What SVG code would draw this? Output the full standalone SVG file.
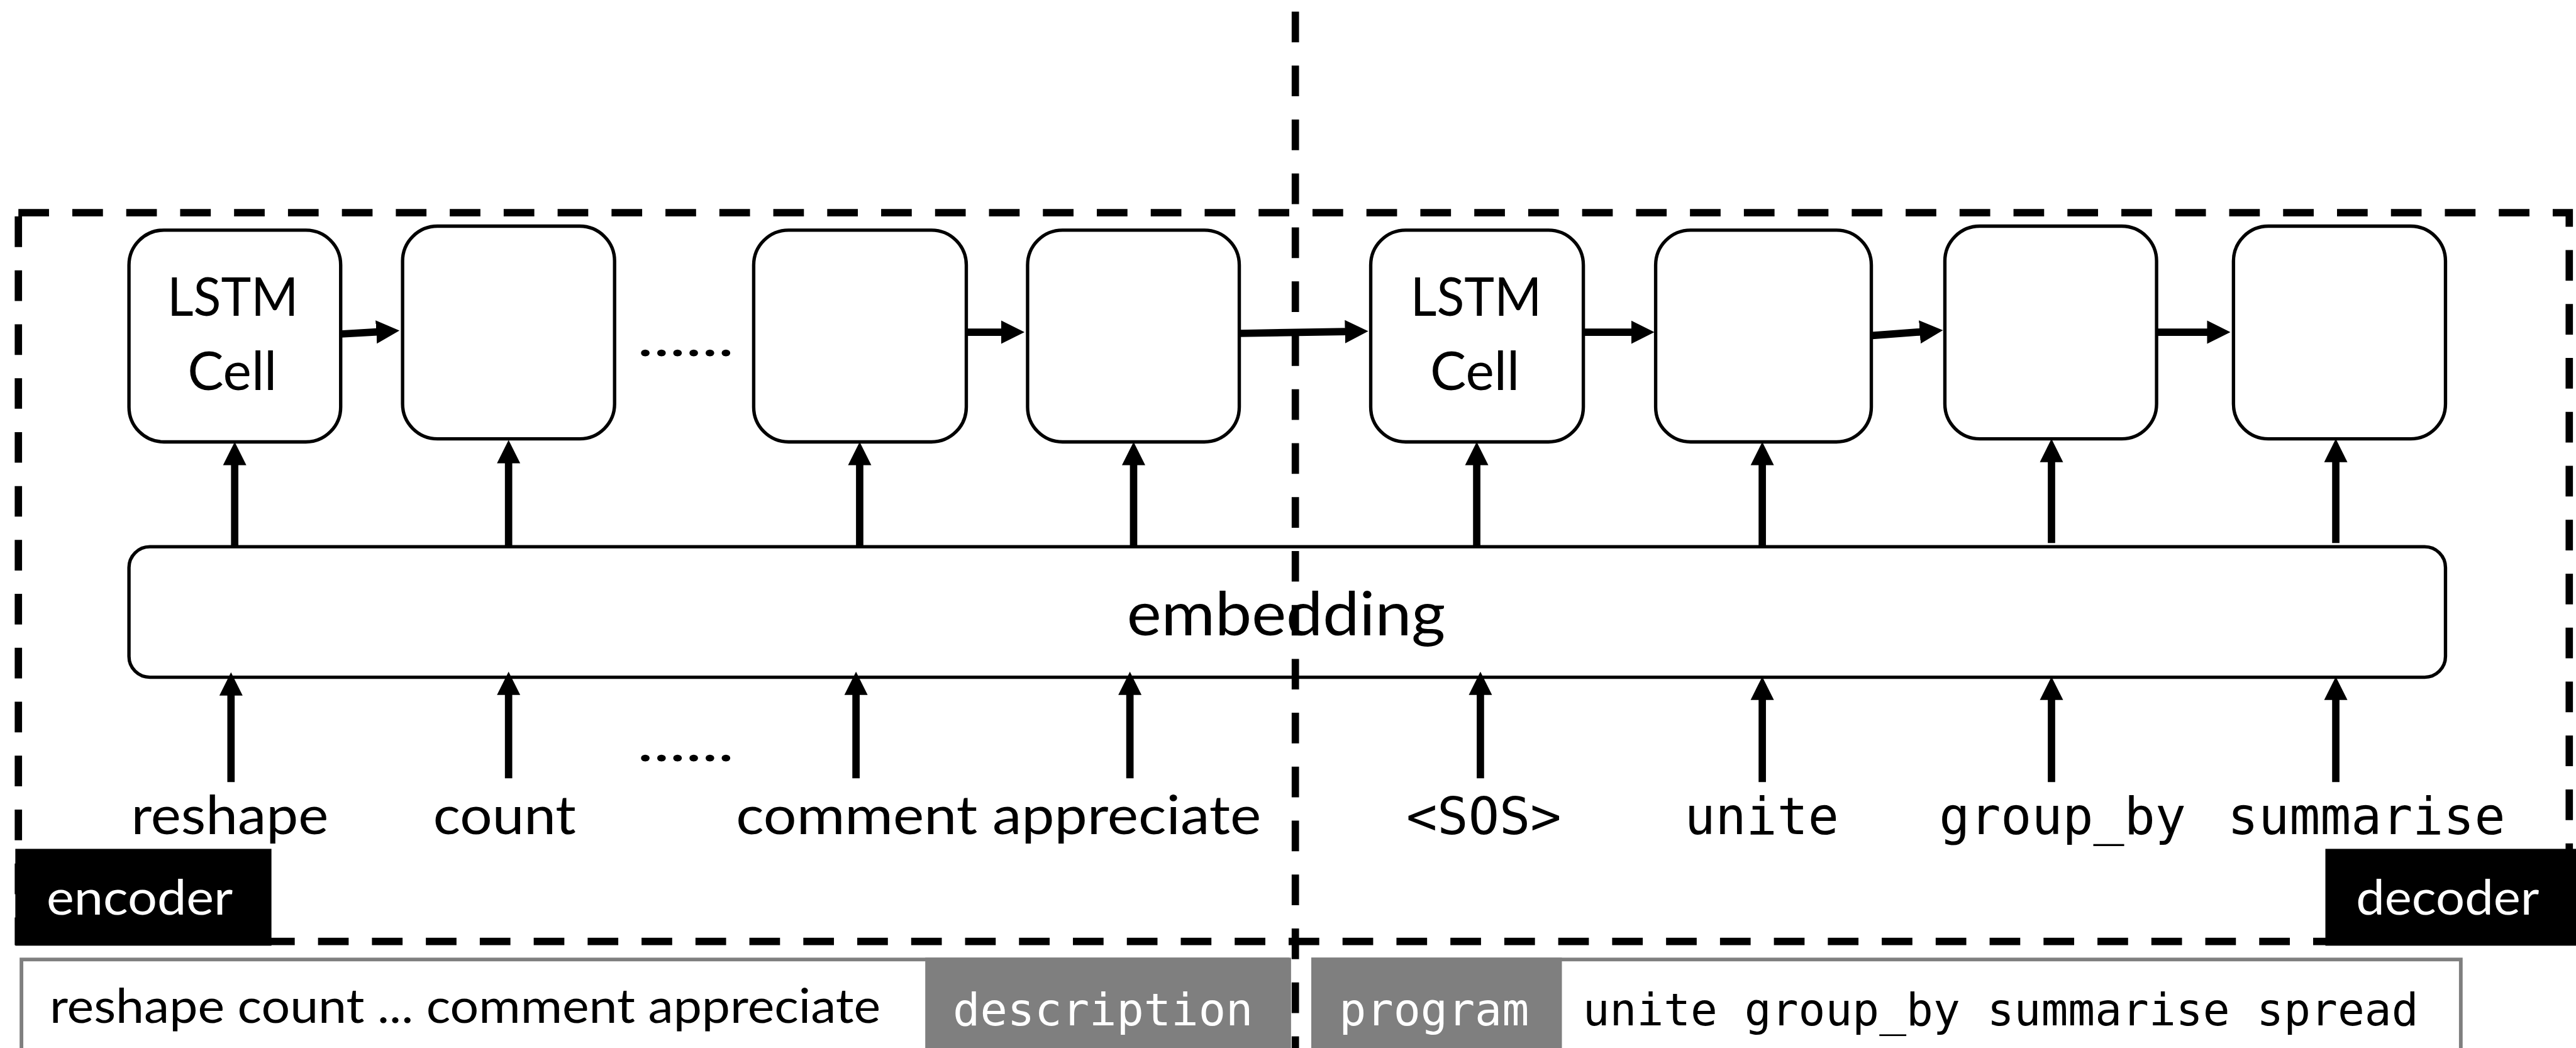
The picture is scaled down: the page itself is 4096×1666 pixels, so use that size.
<svg xmlns="http://www.w3.org/2000/svg" width="4096" height="1666" viewBox="0 0 4096 1666">
<style>
.cell{fill:#fff;stroke:#000;stroke-width:5.5}
.sans{font-family:Lato,"Open Sans","Liberation Sans",sans-serif;fill:#000}
.mono{font-family:"DejaVu Sans Mono","Liberation Mono",monospace;fill:#000}
.white{fill:#fff}
.dash{fill:none;stroke:#000;stroke-width:12;stroke-dasharray:50 38}
.arr{stroke:#000;stroke-width:12;fill:none;marker-end:url(#ah)}
.gray{fill:#7f7f7f}
.panel{fill:#fff;stroke:#7f7f7f;stroke-width:6}
</style>
<defs>
<marker id="ah" markerUnits="userSpaceOnUse" markerWidth="40" markerHeight="40" viewBox="0 0 40 40" refX="2" refY="20" orient="auto"><path d="M0,1 L38,20 L0,39 Z" fill="#000"/></marker>
</defs>
<rect width="4096" height="1666" fill="#fff"/>
<g transform="scale(0.97431)">
  <g id="frame">
    <rect class="dash" x="30" y="347" width="4163" height="1189"/>
  </g>
  <g id="encoder-label">
    <rect x="25" y="1385" width="418" height="158" fill="#000"/>
    <text class="sans white" x="76" y="1492" font-size="80" textLength="304" lengthAdjust="spacingAndGlyphs">encoder</text>
  </g>
  <g id="decoder-label">
    <rect x="3795" y="1385" width="409" height="158" fill="#000"/>
    <text class="sans white" x="3845" y="1492" font-size="80" textLength="299" lengthAdjust="spacingAndGlyphs">decoder</text>
  </g>
  <g id="cell1">
    <rect class="cell" x="210.5" y="375.5" width="345.5" height="345.5" rx="57"/>
    <text class="sans" x="380" y="515" font-size="88" text-anchor="middle" textLength="214" lengthAdjust="spacingAndGlyphs">LSTM</text>
    <text class="sans" x="379" y="636" font-size="88" text-anchor="middle" textLength="146" lengthAdjust="spacingAndGlyphs">Cell</text>
  </g>
  <g id="cell2"><rect class="cell" x="657" y="369" width="346" height="347" rx="57"/></g>
  <g id="cell3"><rect class="cell" x="1230" y="375.5" width="347" height="345.5" rx="57"/></g>
  <g id="cell4"><rect class="cell" x="1677" y="375.5" width="345.5" height="345.5" rx="57"/></g>
  <g id="cell5">
    <rect class="cell" x="2237" y="375.5" width="347" height="345.5" rx="57"/>
    <text class="sans" x="2409" y="515" font-size="88" text-anchor="middle" textLength="214" lengthAdjust="spacingAndGlyphs">LSTM</text>
    <text class="sans" x="2407" y="636" font-size="88" text-anchor="middle" textLength="146" lengthAdjust="spacingAndGlyphs">Cell</text>
  </g>
  <g id="cell6"><rect class="cell" x="2702" y="375.5" width="352" height="345.5" rx="57"/></g>
  <g id="cell7"><rect class="cell" x="3174" y="369" width="345.5" height="347" rx="57"/></g>
  <g id="cell8"><rect class="cell" x="3645" y="369" width="346" height="347" rx="57"/></g>
  <g id="dots-top"><text class="sans" x="1040" y="581" font-size="88" textLength="158" lengthAdjust="spacingAndGlyphs">......</text></g>
  <g id="embedding">
    <rect class="cell" x="210.5" y="892" width="3780.5" height="213" rx="34"/>
    <text class="sans" x="1839" y="1037" font-size="100" textLength="520" lengthAdjust="spacingAndGlyphs">embedding</text>
  </g>
  <g id="connectors">
    <path class="arr" d="M556,545 L616,541.5"/>
    <path class="arr" d="M1577,542 L1636,542"/>
    <path class="arr" d="M2022.5,544 L2197,541"/>
    <path class="arr" d="M2584,542 L2664,542"/>
    <path class="arr" d="M3055.5,547.5 L3135,541.5"/>
    <path class="arr" d="M3519.5,542 L3604,542"/>
    <path class="arr" d="M383,892 L383,757"/>
    <path class="arr" d="M830,892 L830,754"/>
    <path class="arr" d="M1403,892 L1403,757"/>
    <path class="arr" d="M1850,892 L1850,757"/>
    <path class="arr" d="M2410,892 L2410,757"/>
    <path class="arr" d="M2876,892 L2876,757"/>
    <path class="arr" d="M3348,886 L3348,752"/>
    <path class="arr" d="M3812,886 L3812,752"/>
    <path class="arr" d="M377,1276 L377,1133"/>
    <path class="arr" d="M830,1270 L830,1132"/>
    <path class="arr" d="M1397,1270 L1397,1132"/>
    <path class="arr" d="M1844,1270 L1844,1132"/>
    <path class="arr" d="M2416,1270 L2416,1132"/>
    <path class="arr" d="M2876,1276 L2876,1140"/>
    <path class="arr" d="M3348,1276 L3348,1140"/>
    <path class="arr" d="M3812,1276 L3812,1140"/>
  </g>
  <g id="inputs">
    <text class="sans" x="214" y="1361" font-size="88" textLength="322" lengthAdjust="spacingAndGlyphs">reshape</text>
    <text class="sans" x="707" y="1361" font-size="88" textLength="233" lengthAdjust="spacingAndGlyphs">count</text>
    <text class="sans" x="1040" y="1242" font-size="88" textLength="158" lengthAdjust="spacingAndGlyphs">......</text>
    <text class="sans" x="1201" y="1361" font-size="88" textLength="857" lengthAdjust="spacingAndGlyphs">comment appreciate</text>
    <text class="mono" x="2421.5" y="1361" font-size="84" text-anchor="middle" textLength="253" lengthAdjust="spacingAndGlyphs">&lt;SOS&gt;</text>
    <text class="mono" x="2875" y="1361" font-size="84" text-anchor="middle" textLength="252" lengthAdjust="spacingAndGlyphs">unite</text>
    <text class="mono" x="3366" y="1361" font-size="84" text-anchor="middle" textLength="403" lengthAdjust="spacingAndGlyphs">group_by</text>
    <text class="mono" x="3862" y="1361" font-size="84" text-anchor="middle" textLength="453" lengthAdjust="spacingAndGlyphs">summarise</text>
  </g>
  <g id="description-panel">
    <rect class="panel" x="35" y="1565.5" width="2069" height="200"/>
    <rect class="gray" x="1510" y="1562.5" width="594" height="150"/>
    <text class="sans" x="81" y="1669" font-size="78" textLength="1356" lengthAdjust="spacingAndGlyphs">reshape count ... comment appreciate</text>
    <text class="mono white" x="1800" y="1673" font-size="73.5" text-anchor="middle" textLength="490" lengthAdjust="spacingAndGlyphs">description</text>
  </g>
  <g id="program-panel">
    <rect class="panel" x="2143" y="1565.5" width="1873" height="200"/>
    <rect class="gray" x="2140" y="1562.5" width="409" height="150"/>
    <text class="mono white" x="2340.5" y="1673" font-size="73.5" text-anchor="middle" textLength="310" lengthAdjust="spacingAndGlyphs">program</text>
    <text class="mono" x="3265" y="1673" font-size="73.5" text-anchor="middle" textLength="1364" lengthAdjust="spacingAndGlyphs">unite group_by summarise spread</text>
  </g>
  <g id="divider">
    <line class="dash" x1="2114" y1="19" x2="2114" y2="1712"/>
  </g>
</g>
</svg>
